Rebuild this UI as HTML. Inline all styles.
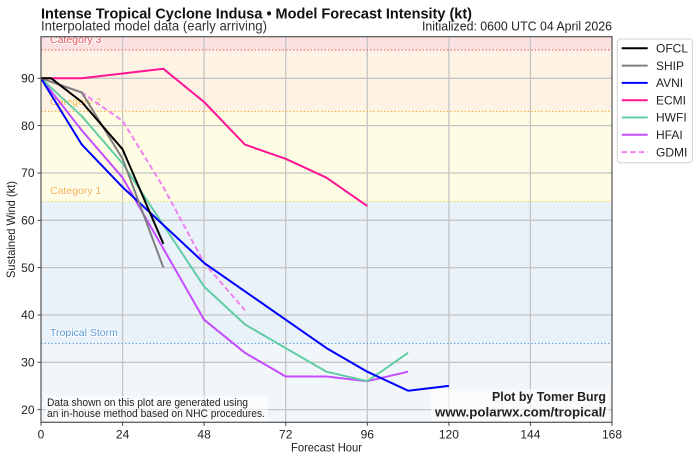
<!DOCTYPE html>
<html><head><meta charset="utf-8"><style>
html,body{margin:0;padding:0;background:#fff;}
svg{display:block;font-family:"Liberation Sans",sans-serif;}
</style></head><body>
<svg width="699" height="460" viewBox="0 0 699 460" xmlns="http://www.w3.org/2000/svg">
<rect x="0" y="0" width="699" height="460" fill="#fff"/>
<!-- title -->
<text x="41" y="18.5" font-size="15" font-weight="bold" fill="#111" textLength="431" lengthAdjust="spacingAndGlyphs">Intense Tropical Cyclone Indusa • Model Forecast Intensity (kt)</text>
<text x="41" y="30.5" font-size="13.5" fill="#333" textLength="226" lengthAdjust="spacingAndGlyphs">Interpolated model data (early arriving)</text>
<text x="612" y="30.5" font-size="12.5" fill="#222" text-anchor="end" textLength="190" lengthAdjust="spacingAndGlyphs">Initialized: 0600 UTC 04 April 2026</text>

<defs><clipPath id="pc"><rect x="41" y="36.7" width="571" height="385.6"/></clipPath></defs>
<g clip-path="url(#pc)">
<!-- bands -->
<rect x="41" y="36.7" width="571" height="13.2" fill="#fae0e1"/>
<rect x="41" y="49.9" width="571" height="61.5" fill="#fdf2e3"/>
<rect x="41" y="111.4" width="571" height="90" fill="#fefde4"/>
<rect x="41" y="201.4" width="571" height="142" fill="#e9f1f9"/>
<rect x="41" y="343.4" width="571" height="79" fill="#f1f6fb"/>
<!-- grid -->
<g stroke="#c6c6c6" stroke-width="1.3">
<line x1="41" x2="612" y1="409.6" y2="409.6"/>
<line x1="41" x2="612" y1="362.3" y2="362.3"/>
<line x1="41" x2="612" y1="315.0" y2="315.0"/>
<line x1="41" x2="612" y1="267.6" y2="267.6"/>
<line x1="41" x2="612" y1="220.3" y2="220.3"/>
<line x1="41" x2="612" y1="173.0" y2="173.0"/>
<line x1="41" x2="612" y1="125.6" y2="125.6"/>
<line x1="41" x2="612" y1="78.3" y2="78.3"/>
<line y1="36.7" y2="422.3" x1="122.6" x2="122.6"/>
<line y1="36.7" y2="422.3" x1="204.1" x2="204.1"/>
<line y1="36.7" y2="422.3" x1="285.7" x2="285.7"/>
<line y1="36.7" y2="422.3" x1="367.3" x2="367.3"/>
<line y1="36.7" y2="422.3" x1="448.9" x2="448.9"/>
<line y1="36.7" y2="422.3" x1="530.4" x2="530.4"/>
</g>
<!-- category lines -->
<line x1="41" x2="612" y1="49.9" y2="49.9" stroke="#e86a6a" stroke-width="1.1" stroke-dasharray="1.5,2"/>
<line x1="41" x2="612" y1="111.4" y2="111.4" stroke="#f8b44a" stroke-width="1.1" stroke-dasharray="1.5,2"/>
<line x1="41" x2="612" y1="201.4" y2="201.4" stroke="#eee060" stroke-width="1.1" stroke-dasharray="1.5,2"/>
<line x1="41" x2="612" y1="343.4" y2="343.4" stroke="#6fa8dc" stroke-width="1.1" stroke-dasharray="1.5,2"/>
<g font-size="10.5" stroke="#fff" stroke-width="2.2" paint-order="stroke" stroke-opacity="0.8">
<text x="50" y="43" fill="#e8535a">Category 3</text>
<text x="50" y="105" fill="#f8b040">Category 2</text>
<text x="50" y="194" fill="#f8b040">Category 1</text>
<text x="50" y="336" fill="#5b9bd5">Tropical Storm</text>
</g>
<!-- footer boxes -->
<rect x="45" y="396" width="223" height="25" fill="#fff" fill-opacity="0.6"/>
<rect x="431" y="389" width="178" height="32" fill="#fff" fill-opacity="0.6"/>
<!-- series -->
<g fill="none" stroke-width="2" stroke-linejoin="round" stroke-linecap="butt">
<polyline stroke="#ff1493" points="41,78.3 81.8,78.3 163.4,68.8 204.1,102.0 244.9,144.6 285.7,158.8 326.5,177.7 367.3,206.1"/>
<polyline stroke="#ee82ee" stroke-dasharray="5.5,3" points="41,78.3 81.8,92.5 122.6,120.9 163.4,187.2 204.1,262.9 244.9,310.2"/>
<polyline stroke="#c44dff" points="41,78.3 81.8,130.4 122.6,177.7 163.4,248.7 204.1,319.7 244.9,352.8 285.7,376.5 326.5,376.5 367.3,381.2 408.1,371.7"/>
<polyline stroke="#62cda2" points="41,78.3 81.8,116.2 122.6,163.5 163.4,225.0 204.1,286.6 244.9,324.4 285.7,348.1 326.5,371.7 367.3,381.2 408.1,352.8"/>
<polyline stroke="#0000ff" points="41,78.3 81.8,144.6 122.6,187.2 163.4,225.0 204.1,262.9 244.9,291.3 285.7,319.7 326.5,348.1 367.3,371.7 408.1,390.7 448.9,385.9"/>
<polyline stroke="#808080" points="41,78.3 81.8,92.5 122.6,158.8 163.4,267.6"/>
<polyline stroke="#000" points="41,78.3 51.2,78.3 81.8,102.0 122.6,149.3 163.4,243.9"/>
</g>
<text x="47" y="406" font-size="11" fill="#222" textLength="201" lengthAdjust="spacingAndGlyphs">Data shown on this plot are generated using</text>
<text x="47" y="417" font-size="11" fill="#222" textLength="218" lengthAdjust="spacingAndGlyphs">an in-house method based on NHC procedures.</text>
<text x="606" y="401" font-size="13" font-weight="bold" fill="#222" text-anchor="end" textLength="114" lengthAdjust="spacingAndGlyphs">Plot by Tomer Burg</text>
<text x="606" y="416.5" font-size="13" font-weight="bold" fill="#222" text-anchor="end" textLength="171" lengthAdjust="spacingAndGlyphs">www.polarwx.com/tropical/</text>
</g>
<!-- spines -->
<rect x="41" y="36.7" width="571" height="385.6" fill="none" stroke="#555" stroke-width="1.2"/>
<!-- ticks -->
<g stroke="#444" stroke-width="1">
<line x1="37.5" x2="41" y1="409.6" y2="409.6"/>
<line x1="37.5" x2="41" y1="362.3" y2="362.3"/>
<line x1="37.5" x2="41" y1="315.0" y2="315.0"/>
<line x1="37.5" x2="41" y1="267.6" y2="267.6"/>
<line x1="37.5" x2="41" y1="220.3" y2="220.3"/>
<line x1="37.5" x2="41" y1="173.0" y2="173.0"/>
<line x1="37.5" x2="41" y1="125.6" y2="125.6"/>
<line x1="37.5" x2="41" y1="78.3" y2="78.3"/>
<line y1="422.3" y2="425.8" x1="41" x2="41"/>
<line y1="422.3" y2="425.8" x1="122.6" x2="122.6"/>
<line y1="422.3" y2="425.8" x1="204.1" x2="204.1"/>
<line y1="422.3" y2="425.8" x1="285.7" x2="285.7"/>
<line y1="422.3" y2="425.8" x1="367.3" x2="367.3"/>
<line y1="422.3" y2="425.8" x1="448.9" x2="448.9"/>
<line y1="422.3" y2="425.8" x1="530.4" x2="530.4"/>
<line y1="422.3" y2="425.8" x1="612" x2="612"/>
</g>
<g font-size="12" fill="#222" text-anchor="end">
<text x="34.5" y="413.8">20</text>
<text x="34.5" y="366.5">30</text>
<text x="34.5" y="319.2">40</text>
<text x="34.5" y="271.8">50</text>
<text x="34.5" y="224.5">60</text>
<text x="34.5" y="177.2">70</text>
<text x="34.5" y="129.8">80</text>
<text x="34.5" y="82.5">90</text>
</g>
<g font-size="12" fill="#222" text-anchor="middle">
<text x="41" y="438.5">0</text>
<text x="122.6" y="438.5">24</text>
<text x="204.1" y="438.5">48</text>
<text x="285.7" y="438.5">72</text>
<text x="367.3" y="438.5">96</text>
<text x="448.9" y="438.5">120</text>
<text x="530.4" y="438.5">144</text>
<text x="612" y="438.5">168</text>
</g>
<text x="326.5" y="451.5" font-size="12" fill="#222" text-anchor="middle" textLength="71" lengthAdjust="spacingAndGlyphs">Forecast Hour</text>
<text transform="translate(15,229.5) rotate(-90)" x="0" y="0" font-size="12" fill="#222" text-anchor="middle" textLength="97" lengthAdjust="spacingAndGlyphs">Sustained Wind (kt)</text>

<!-- legend -->
<rect x="617.3" y="39" width="75" height="123.7" rx="3" ry="3" fill="#fff" stroke="#d0d0d0" stroke-width="1"/>
<g stroke-width="2" fill="none">
<line x1="621.7" x2="647.7" y1="48.3" y2="48.3" stroke="#000"/>
<line x1="621.7" x2="647.7" y1="65.6" y2="65.6" stroke="#808080"/>
<line x1="621.7" x2="647.7" y1="82.9" y2="82.9" stroke="#0000ff"/>
<line x1="621.7" x2="647.7" y1="100.2" y2="100.2" stroke="#ff1493"/>
<line x1="621.7" x2="647.7" y1="117.5" y2="117.5" stroke="#62cda2"/>
<line x1="621.7" x2="647.7" y1="134.8" y2="134.8" stroke="#c44dff"/>
<line x1="621.7" x2="647.7" y1="152.1" y2="152.1" stroke="#ee82ee" stroke-dasharray="5.5,3"/>
</g>
<g font-size="12" fill="#222">
<text x="656" y="52.5">OFCL</text>
<text x="656" y="69.8">SHIP</text>
<text x="656" y="87.1">AVNI</text>
<text x="656" y="104.4">ECMI</text>
<text x="656" y="121.7">HWFI</text>
<text x="656" y="139">HFAI</text>
<text x="656" y="156.3">GDMI</text>
</g>
</svg>
</body></html>
